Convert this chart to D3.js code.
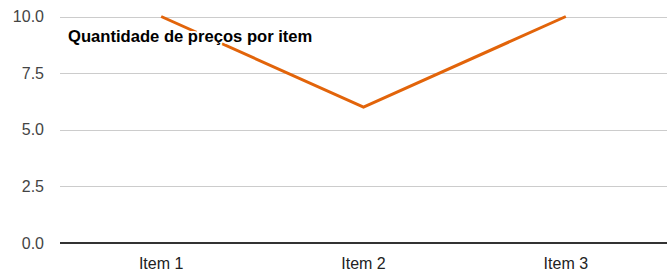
<!DOCTYPE html>
<html>
<head>
<meta charset="UTF-8">
<title>Quantidade de preços por item</title>
<script src="https://cdnjs.cloudflare.com/ajax/libs/d3/7.9.0/d3.min.js"></script>
<style>
  body { margin: 0; background: #fff; }
  text { font-family: "Liberation Sans", Arial, sans-serif; }
</style>
</head>
<body>
<div id="chart"></div>
<script>
// data
const categories = ["Item 1", "Item 2", "Item 3"];
const values = [10, 6, 10];
const yTicks = [0, 2.5, 5, 7.5, 10];
const title = "Quantidade de preços por item";

const W = 668, H = 271;
const margin = {top: 16.5, right: 1, bottom: 28, left: 60};

const svg = d3.select("#chart").append("svg")
  .attr("width", W)
  .attr("height", H);

const x = d3.scalePoint()
  .domain(categories)
  .range([margin.left, W - margin.right])
  .padding(0.5);

const y = d3.scaleLinear()
  .domain([0, 10])
  .range([H - margin.bottom, margin.top]);

// gridlines
svg.append("g")
  .selectAll("line")
  .data(yTicks.filter(d => d !== 0))
  .join("line")
    .attr("x1", margin.left)
    .attr("x2", W - margin.right)
    .attr("y1", d => Math.round(y(d)) + 0.5)
    .attr("y2", d => Math.round(y(d)) + 0.5)
    .attr("stroke", "#cccccc")
    .attr("stroke-width", 1);

// y labels
svg.append("g")
  .selectAll("text")
  .data(yTicks)
  .join("text")
    .attr("x", 44)
    .attr("y", d => y(d))
    .attr("dy", "0.35em")
    .attr("text-anchor", "end")
    .attr("font-size", 16)
    .attr("fill", "#444")
    .text(d => d.toFixed(1));

// x labels
svg.append("g")
  .selectAll("text")
  .data(categories)
  .join("text")
    .attr("x", d => x(d))
    .attr("y", H - 2)
    .attr("text-anchor", "middle")
    .attr("font-size", 16)
    .attr("fill", "#222")
    .text(d => d);

// line
const line = d3.line()
  .x((d, i) => x(categories[i]))
  .y(d => y(d));

svg.append("path")
  .datum(values)
  .attr("d", line)
  .attr("fill", "none")
  .attr("stroke", "#e2640a")
  .attr("stroke-width", 3);

// baseline
svg.append("line")
  .attr("x1", margin.left)
  .attr("x2", W - margin.right)
  .attr("y1", y(0))
  .attr("y2", y(0))
  .attr("stroke", "#333")
  .attr("stroke-width", 2);

// title with white halo
svg.append("text")
  .attr("x", 68)
  .attr("y", 42)
  .attr("font-size", 16.6)
  .attr("font-weight", "bold")
  .attr("fill", "#000")
  .attr("stroke", "#fff")
  .attr("stroke-width", 4)
  .attr("paint-order", "stroke")
  .text(title);
</script>
</body>
</html>
